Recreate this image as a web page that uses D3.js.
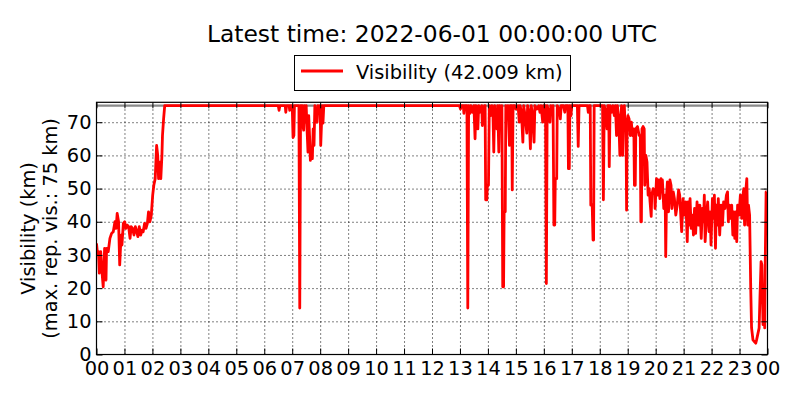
<!DOCTYPE html>
<html>
<head>
<meta charset="utf-8">
<script src="https://cdn.jsdelivr.net/npm/d3@7"></script>
<style>
  body { margin: 0; background: #fff; }
  svg text { font-family: "DejaVu Sans", sans-serif; fill: #000; }
</style>
</head>
<body>
<div id="chart"></div>
<script>
// hours since 00 UTC, visibility in km
const hours = [
  0.00, 0.04, 0.07, 0.10, 0.15, 0.20, 0.24, 0.29, 0.34, 0.36, 0.42, 0.48, 0.54, 0.60, 0.66, 0.70,
  0.74, 0.79, 0.83, 0.88, 0.91, 0.96, 1.01, 1.05, 1.10, 1.15, 1.20, 1.24, 1.29, 1.34, 1.39, 1.44,
  1.48, 1.53, 1.58, 1.63, 1.67, 1.72, 1.77, 1.82, 1.86, 1.91, 1.96, 2.01, 2.05, 2.10, 2.15, 2.19,
  2.22, 2.27, 2.30, 2.34, 2.36, 2.40, 2.44,
  3.00, 4.00, 5.00, 6.00, 6.50, 6.53, 6.56, 6.75, 6.77, 6.80, 6.89, 6.91, 6.93, 7.00, 7.03, 7.06,
  7.08, 7.24, 7.27, 7.30,
  7.36, 7.38, 7.41, 7.44, 7.47, 7.50, 7.53, 7.565, 7.59, 7.62, 7.65, 7.68, 7.72, 7.75, 7.78, 7.81,
  7.85, 7.89, 7.92, 7.96, 8.00, 8.02, 8.05, 8.07, 8.10, 8.13, 8.17,
  9.00, 10.00, 11.00, 12.00, 12.98,
  13.02, 13.05, 13.12, 13.14, 13.17, 13.25, 13.28, 13.31, 13.36, 13.39, 13.45, 13.50, 13.54, 13.57,
  13.62, 13.64, 13.67, 13.72, 13.78, 13.80, 13.83, 13.88, 13.90, 13.92, 13.96, 13.98, 14.02, 14.05,
  14.10, 14.14, 14.18, 14.21, 14.24, 14.28, 14.32, 14.35, 14.39, 14.42, 14.47, 14.50, 14.53, 14.56,
  14.58, 14.62, 14.64, 14.68, 14.72, 14.77, 14.80, 14.85, 14.87, 14.90, 14.96, 15.00, 15.08, 15.12,
  15.15, 15.20, 15.25, 15.28, 15.33, 15.39, 15.42, 15.47, 15.52, 15.55, 15.60, 15.65, 15.68, 15.75,
  15.82, 15.86, 15.90, 15.96, 15.99, 16.06, 16.09, 16.12, 16.18, 16.22, 16.25, 16.30, 16.33, 16.36,
  16.39, 16.41, 16.46, 16.48, 16.55, 16.59, 16.62, 16.70, 16.75, 16.78, 16.86, 16.88, 16.91, 16.93,
  16.97, 17.00, 17.10, 17.20, 17.23, 17.26, 17.40, 17.56, 17.59, 17.62, 17.66, 17.68, 17.73, 17.76,
  17.78, 17.80, 17.95, 18.10, 18.13, 18.16, 18.22, 18.26, 18.29, 18.32, 18.34, 18.37, 18.43, 18.47,
  18.52, 18.56, 18.60, 18.63, 18.68, 18.72, 18.75, 18.78, 18.82, 18.85, 18.88, 18.91, 18.94, 18.96,
  18.98, 19.01,
  19.05, 19.09, 19.13, 19.17, 19.22, 19.24, 19.27, 19.29, 19.35, 19.41, 19.45, 19.47, 19.49, 19.51,
  19.55, 19.59, 19.61, 19.65, 19.69, 19.71, 19.73, 19.77, 19.80, 19.84, 19.86, 19.91, 19.96, 19.98,
  20.03, 20.08, 20.10, 20.15, 20.19, 20.22, 20.24, 20.29, 20.34, 20.36, 20.39, 20.42, 20.46, 20.51,
  20.55, 20.58, 20.63, 20.67, 20.72, 20.77, 20.82, 20.86, 20.91, 20.93, 20.98, 21.03, 21.08, 21.13,
  21.16, 21.20, 21.23, 21.27, 21.32, 21.35, 21.39, 21.43, 21.48, 21.53, 21.58, 21.63, 21.67, 21.71,
  21.74, 21.77, 21.82, 21.86, 21.91, 21.95, 21.98, 22.03, 22.07, 22.10, 22.14, 22.17, 22.21, 22.24,
  22.29, 22.34, 22.39, 22.43, 22.48, 22.53, 22.57, 22.60, 22.63, 22.67, 22.72, 22.76, 22.79, 22.83,
  22.86, 22.90, 22.93, 22.98, 23.03, 23.08, 23.11, 23.15, 23.18, 23.22, 23.26, 23.29, 23.32, 23.36,
  23.40, 23.43, 23.48, 23.53, 23.58, 23.61, 23.65, 23.70, 23.73, 23.77, 23.80, 23.84, 23.88, 23.90,
  23.92, 23.95, 23.97
];

const visKm = [
  33.5, 30, 31, 24.5, 31, 24.5, 20.4, 32, 22.4, 32, 31, 35, 36.5, 37, 40, 38,
  42.5, 40, 27, 36, 33, 39.5, 40, 38, 39, 38.5, 35, 38.5, 38, 36, 38.5, 37,
  35.5, 38.5, 36, 37.5, 37, 39.5, 38, 39.5, 43, 40, 42, 48, 51, 53, 63, 60,
  53, 58, 53, 60, 66, 71, 75,
  75, 75, 75, 75, 75, 73.6, 75, 75, 73, 75, 75, 73.6, 75, 75, 65.4, 66,
  75, 75, 14, 75,
  75, 69, 67.6, 75, 70, 75, 68, 61, 72, 66, 58.5, 62, 59, 68, 63, 75,
  72, 70, 75, 73, 75, 63, 70, 75, 69.7, 75, 75,
  75, 75, 75, 75, 75,
  74, 75, 75, 72.7, 75, 75, 14, 75, 72.7, 75, 73, 75, 65, 75,
  74, 68, 75, 73, 75, 69, 72, 75, 75, 46.6, 46.6, 51, 51, 75,
  72, 75, 73, 61, 75, 70, 68, 75, 61, 75, 72, 75, 20.4, 20.4,
  43, 43, 75, 72, 75, 63, 75, 75, 49.6, 75, 75, 74, 75, 70,
  75, 73, 64, 75, 72, 66.7, 75, 73, 62, 75, 72, 64, 75, 74,
  75, 73, 75, 70, 75, 75, 21.4, 75, 73, 70, 75, 74, 75, 39,
  39, 53, 53, 75, 74, 71, 75, 75, 73, 75, 75, 56, 56, 75,
  72, 75, 75, 75, 62.7, 75, 75, 75, 73, 75, 75, 45, 45, 34.5,
  34.5, 75, 75, 75, 46.6, 75, 73, 68, 75, 75, 56.6, 75, 73, 75,
  72, 75, 66, 75, 71, 60, 70, 75, 60, 70, 75, 68, 70, 43.5,
  70, 72,
  71, 66, 70, 66, 68, 51, 51, 68, 68.7, 66, 66, 40, 40, 68,
  68.7, 68, 51, 60, 58, 53, 48, 50, 46, 41.6, 48, 50, 49, 44,
  53, 48, 52.6, 47, 53, 49, 52.6, 44, 48, 29.5, 48, 52, 43, 52.6,
  51, 44, 49, 47, 42, 45, 49.6, 48, 40, 37, 47, 42, 46, 34,
  46, 39, 47, 38, 42, 36, 44, 36.5, 46, 39, 45, 35, 44, 40,
  48, 34, 42, 46, 37, 43, 33, 47, 41, 48, 32, 45, 39, 47,
  36, 45, 39, 46, 44, 48, 49, 40, 45, 41, 45, 36, 43, 35,
  43, 34, 45, 42, 48, 41, 47, 50, 39, 49, 53, 39, 45, 42,
  20, 8, 4.4, 3.9, 3.4, 4.4, 6, 8, 17, 28, 27, 9, 18, 8,
  28, 49, 49
];

const hourTicks = [0, 1, 2, 3, 4, 5, 6, 7, 8, 9, 10, 11, 12, 13, 14, 15, 16, 17, 18, 19, 20, 21, 22, 23, 24];
const hourLabels = ["00", "01", "02", "03", "04", "05", "06", "07", "08", "09", "10", "11",
  "12", "13", "14", "15", "16", "17", "18", "19", "20", "21", "22", "23", "00"];
const visTicks = [0, 10, 20, 30, 40, 50, 60, 70];
const maxRepVis = 75;

const titleText = "Latest time: 2022-06-01 00:00:00 UTC";
const legendText = "Visibility (42.009 km)";
const yLabel1 = "Visibility (km)";
const yLabel2 = "(max. rep. vis.: 75 km)";

const W = 800, H = 400;
const plotL = 96.5, plotR = 767.5, plotT = 102.3, plotB = 354.5;

const svg = d3.select("#chart")
  .append("svg")
  .attr("width", W)
  .attr("height", H);

var x = d3.scaleLinear().domain([0, 24]).range([plotL, plotR]);
var y = d3.scaleLinear().domain([0, 76]).range([plotB, plotT]);

// dotted grid
svg.append("g")
  .attr("transform", `translate(0,${plotB})`)
  .call(d3.axisBottom(x).tickValues(hourTicks.slice(1, -1)).tickSize(-(plotB - plotT)).tickFormat(""))
  .call(g => g.select(".domain").remove())
  .selectAll("line")
  .attr("stroke", "#000")
  .attr("stroke-width", 1)
  .attr("stroke-dasharray", "1,3");

svg.append("g")
  .attr("transform", `translate(${plotL},0)`)
  .call(d3.axisLeft(y).tickValues(visTicks.slice(1)).tickSize(-(plotR - plotL)).tickFormat(""))
  .call(g => g.select(".domain").remove())
  .selectAll("line")
  .attr("stroke", "#000")
  .attr("stroke-width", 1)
  .attr("stroke-dasharray", "1,3");

svg.append("clipPath").attr("id", "plotclip")
  .append("rect")
  .attr("x", plotL).attr("y", plotT)
  .attr("width", plotR - plotL).attr("height", plotB - plotT);

// max reported visibility line
svg.append("line")
  .attr("clip-path", "url(#plotclip)")
  .attr("x1", x(0)).attr("x2", x(24))
  .attr("y1", y(maxRepVis)).attr("y2", y(maxRepVis))
  .attr("stroke", "#8a8a8a")
  .attr("stroke-width", 2.4);

const data = hours.map((h, i) => [h, visKm[i]]);

svg.append("path")
  .datum(data)
  .attr("clip-path", "url(#plotclip)")
  .attr("fill", "none")
  .attr("stroke", "#ff0000")
  .attr("stroke-width", 2.8)
  .attr("stroke-linejoin", "round")
  .attr("d", d3.line()
    .x(d => x(d[0]))
    .y(d => y(d[1])));

// axes with inward ticks
const xAxis = svg.append("g")
  .attr("transform", `translate(0,${plotB})`)
  .call(d3.axisBottom(x).tickValues(hourTicks)
    .tickFormat((d, i) => hourLabels[i])
    .tickSizeInner(-6).tickSizeOuter(0).tickPadding(6.7));

const yAxis = svg.append("g")
  .attr("transform", `translate(${plotL},0)`)
  .call(d3.axisLeft(y).tickValues(visTicks)
    .tickSizeInner(-6).tickSizeOuter(0).tickPadding(5));

svg.append("g")
  .attr("transform", `translate(0,${plotT})`)
  .call(d3.axisTop(x).tickValues(hourTicks).tickFormat("").tickSizeInner(-6).tickSizeOuter(0));

svg.append("g")
  .attr("transform", `translate(${plotR},0)`)
  .call(d3.axisRight(y).tickValues(visTicks).tickFormat("").tickSizeInner(-6).tickSizeOuter(0));

svg.selectAll(".domain").remove();
[xAxis, yAxis].forEach(g => g.selectAll("text")
  .style("font-family", "DejaVu Sans")
  .style("font-size", "19.4px")
  .attr("fill", "#000"));

// frame
svg.append("rect")
  .attr("x", plotL).attr("y", plotT)
  .attr("width", plotR - plotL).attr("height", plotB - plotT)
  .attr("fill", "none")
  .attr("stroke", "#000")
  .attr("stroke-width", 1.2);

// title
svg.append("text")
  .attr("x", (plotL + plotR) / 2)
  .attr("y", 42)
  .attr("text-anchor", "middle")
  .style("font-size", "23.4px")
  .text(titleText);

// legend
svg.append("rect")
  .attr("x", 294.5).attr("y", 55.5)
  .attr("width", 276).attr("height", 35)
  .attr("fill", "#fff")
  .attr("stroke", "#000")
  .attr("stroke-width", 1);

svg.append("line")
  .attr("x1", 301).attr("x2", 343)
  .attr("y1", 71).attr("y2", 71)
  .attr("stroke", "#ff0000")
  .attr("stroke-width", 2.8);

svg.append("text")
  .attr("x", 356)
  .attr("y", 78.5)
  .style("font-size", "19.4px")
  .text(legendText);

// y label, two lines
const yc = (plotT + plotB) / 2;
svg.append("text")
  .attr("transform", `translate(35,${yc}) rotate(-90)`)
  .attr("text-anchor", "middle")
  .style("font-size", "19.4px")
  .text(yLabel1);

svg.append("text")
  .attr("transform", `translate(57,${yc}) rotate(-90)`)
  .attr("text-anchor", "middle")
  .style("font-size", "19.4px")
  .text(yLabel2);
</script>
</body>
</html>
